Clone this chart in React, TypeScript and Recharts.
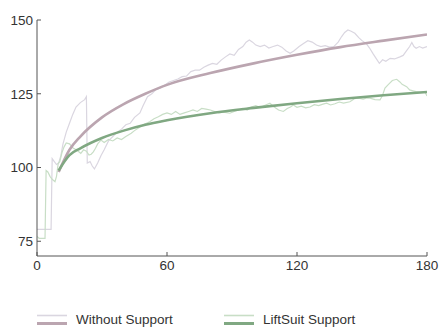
import React from "react";
import { LineChart, Line, XAxis, YAxis, Legend } from "recharts";

// Raw session traces, [minute, value]
const withoutRaw: [number, number][] = [
  [0, 79], [3, 79], [6.5, 79], [7, 103], [8, 102], [9, 101], [10, 101.5], [11, 104],
  [12, 108], [13.5, 112], [15, 115], [16.5, 118], [18, 120.5], [20, 122], [22, 123],
  [22.8, 124], [23.2, 101.5], [24.5, 102], [25.5, 100.5], [26.5, 99.5], [28, 101.5],
  [29.5, 104], [31, 106], [33, 109], [35, 110.5], [37, 112], [39, 113], [41, 114.5],
  [43, 115], [45, 117], [47.5, 118.5], [49, 121], [51, 124], [53, 125], [55, 126.5],
  [57, 127], [59, 128], [61, 129], [63, 129.5], [65, 130], [67, 130.8], [69, 131],
  [71, 132.5], [73, 133], [75, 133], [77, 134], [79, 134.7], [81, 135.3], [83, 135],
  [85, 136.4], [87, 137.5], [89, 138.5], [91, 138], [93, 140], [95, 141], [96.5, 142.5],
  [98, 143.2], [99.5, 142.5], [101, 141.5], [103, 141], [105, 141.5], [107, 140.5],
  [109, 141], [111, 141.5], [113, 140.8], [115, 139.5], [116.8, 138.7], [118.5, 139.5],
  [121, 141], [123, 142], [125, 143], [127, 142.5], [129, 141.5], [131, 141],
  [133, 141.3], [135, 140.8], [137, 141], [139, 142.5], [140.6, 144.4], [142, 145.8],
  [143.5, 146.6], [145, 146.2], [146.7, 145.5], [148.5, 144], [150, 143], [152, 142],
  [153.5, 140.5], [155, 138.7], [156.5, 137], [158, 135.3], [159.5, 136.5], [161, 136],
  [163, 137], [165, 136.8], [167.5, 137.5], [169, 138], [170.5, 139.5], [172, 141],
  [173, 142.4], [174, 141], [175, 140.4], [176.5, 141], [178, 140.5], [180, 141],
];

const liftRaw: [number, number][] = [
  [0, 76.6], [1, 76], [3.7, 76], [4.2, 99], [5, 98.5], [6, 97], [7, 96], [8.3, 95.2],
  [9, 97], [9.8, 101.4], [10.5, 102], [11.5, 105], [12.5, 107], [13.5, 108.3], [15, 108],
  [16.5, 106.7], [18, 106], [19, 105.5], [20.2, 104.8], [21.5, 106], [22.8, 105.5],
  [24, 104.2], [25, 104.5], [26, 105.3], [27, 106.5], [28, 108], [29.5, 109.3], [31, 108.5],
  [33, 109.5], [35, 109], [37, 110], [39, 109.5], [41, 110.5], [43.5, 111.6], [45, 112.5],
  [47, 113.5], [49, 114.5], [50.5, 115], [52, 115.5], [54, 116.5], [56, 117.2], [58, 118],
  [60, 118.5], [62, 118], [64, 119], [66, 118], [68, 118.5], [70, 119], [72, 119.5],
  [74, 119], [76, 120], [78, 119.8], [80, 119.5], [82, 119], [84, 118.5], [86, 118.8],
  [89, 118.4], [91, 119], [93, 119.5], [95, 120], [97, 119.5], [99, 120.5], [101, 121],
  [103, 120.3], [105, 121], [107.5, 121.8], [109.5, 120.5], [111.5, 119.5], [113.7, 119],
  [115.5, 120], [117, 120.5], [118.3, 121.2], [120, 120.4], [122, 120.8], [124, 120.2],
  [126, 120.5], [128, 121.3], [130, 121], [132, 121.5], [133.7, 121.8], [135.5, 121.2],
  [137.5, 121.6], [139.5, 122.2], [141.5, 121.8], [144.4, 122.3], [146.5, 123.3],
  [148.5, 123.5], [150.5, 123.2], [152, 123.5], [153.7, 123.5], [156, 123], [158.3, 122.9],
  [159.5, 124.5], [160.6, 126.9], [162, 128], [164, 129.5], [166, 129.9], [167.5, 129],
  [168.5, 128.2], [170.6, 127.4], [172, 126.3], [173.5, 126], [175, 125.7], [177, 125.5],
  [179, 125.7], [180, 124.2],
];

// Fitted trend curves, [minute, value]
const withoutFit: [number, number][] = [
  [10, 98.5], [15, 106], [20, 110.5], [30, 117], [40, 121.5], [50, 125], [60, 128],
  [80, 132], [100, 135.3], [120, 138.2], [140, 140.8], [160, 143], [180, 145.1],
];

const liftFit: [number, number][] = [
  [10, 99], [15, 104.2], [20, 106.5], [30, 110], [40, 112.5], [50, 114.5], [60, 116],
  [80, 118.4], [100, 120.2], [120, 121.8], [140, 123.2], [160, 124.5], [180, 125.6],
];

const xTicks = [0, 60, 120, 180];
const yTicks = [75, 100, 125, 150];

const toRows = (pts: [number, number][]) => pts.map(([t, v]) => ({ t, v }));

const COLORS = {
  withoutThin: "#dad6e0",
  withoutThick: "#bba5b0",
  liftThin: "#c8dec6",
  liftThick: "#80a882",
  axis: "#555",
  text: "#333",
};

const FONT = "'Liberation Sans', Arial, sans-serif";

const legendItems = [
  { label: "Without Support", thin: COLORS.withoutThin, thick: COLORS.withoutThick },
  { label: "LiftSuit Support", thin: COLORS.liftThin, thick: COLORS.liftThick },
];

const CustomLegend = () => (
  <div style={{ display: "flex", height: 22, paddingLeft: 37, fontFamily: FONT, fontSize: 13.5, color: COLORS.text }}>
    {legendItems.map((item) => (
      <div key={item.label} style={{ display: "flex", alignItems: "center", width: 187 }}>
        <svg width={30} height={14} style={{ marginRight: 9 }}>
          <line x1={0} x2={30} y1={3.5} y2={3.5} stroke={item.thin} strokeWidth={1.6} />
          <line x1={0} x2={30} y1={11.5} y2={11.5} stroke={item.thick} strokeWidth={3} />
        </svg>
        <span>{item.label}</span>
      </div>
    ))}
  </div>
);

const App: React.FC = () => {
  const tickStyle = { fill: COLORS.text, fontSize: 13.5, fontFamily: FONT };
  return (
    <div style={{ position: "absolute", left: 0, top: 0 }}>
      <LineChart width={439} height={327} margin={{ top: 20, right: 12, left: 0, bottom: 29 }}>
        <XAxis
          dataKey="t"
          type="number"
          domain={[0, 180]}
          ticks={xTicks}
          allowDataOverflow
          height={20}
          tickSize={-4}
          tickMargin={8}
          stroke={COLORS.axis}
          tick={tickStyle}
        />
        <YAxis
          dataKey="v"
          type="number"
          domain={[70, 150]}
          ticks={yTicks}
          allowDataOverflow
          width={37}
          tickSize={-4}
          tickMargin={8}
          stroke={COLORS.axis}
          tick={tickStyle}
        />
        <Legend
          verticalAlign="bottom"
          content={<CustomLegend />}
          wrapperStyle={{ top: 308, bottom: "auto", left: 0 }}
        />
        <Line data={toRows(withoutRaw)} dataKey="v" type="linear" stroke={COLORS.withoutThin} strokeWidth={1.2} dot={false} activeDot={false} isAnimationActive={false} />
        <Line data={toRows(liftRaw)} dataKey="v" type="linear" stroke={COLORS.liftThin} strokeWidth={1.2} dot={false} activeDot={false} isAnimationActive={false} />
        <Line data={toRows(withoutFit)} dataKey="v" type="monotone" stroke={COLORS.withoutThick} strokeWidth={2.6} dot={false} activeDot={false} isAnimationActive={false} />
        <Line data={toRows(liftFit)} dataKey="v" type="monotone" stroke={COLORS.liftThick} strokeWidth={2.6} dot={false} activeDot={false} isAnimationActive={false} />
      </LineChart>
    </div>
  );
};

export default App;
